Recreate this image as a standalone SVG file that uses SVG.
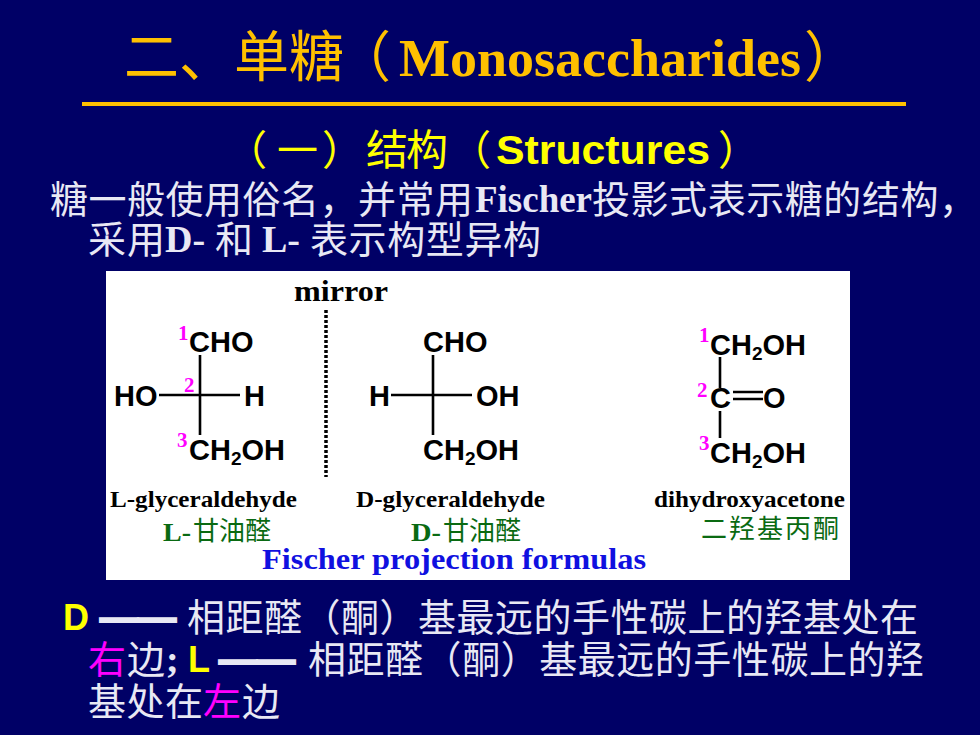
<svg xmlns="http://www.w3.org/2000/svg" width="980" height="735" viewBox="0 0 980 735">
<style>
text{white-space:pre}
.cj{font-family:"Noto Sans CJK SC","Liberation Sans",sans-serif}
.tm{font-family:"Liberation Serif","Noto Sans CJK SC",serif;font-weight:bold}
.ar{font-family:"Liberation Sans","Noto Sans CJK SC",sans-serif;font-weight:bold}
.w{fill:#e8e8f4;font-size:38px}
.wt{fill:#e8e8f4;font-size:36px;stroke:#e8e8f4;stroke-width:2}
.y{fill:#ffc000}
.yy{fill:#ffff00}
.chem{font-size:29px;fill:#000}
.sub{font-size:19px}
.num{font-size:21px;fill:#ff00ff}
.nm{font-size:23px;fill:#000}
.gr{fill:#0a6a12;font-size:26px}
.bond{stroke:#000;stroke-width:2.6;fill:none}
</style>
<rect width="980" height="735" fill="#000066"/>
<g id="title">
<text class="cj y" x="124" y="76" font-size="55" textLength="220">二、单糖</text>
<text class="cj y" x="336" y="76" font-size="55">（</text>
<text class="tm y" x="399" y="76" font-size="52" textLength="402" lengthAdjust="spacingAndGlyphs">Monosaccharides</text>
<text class="cj y" x="804" y="76" font-size="55">）</text>
<line x1="82" y1="104" x2="906" y2="104" stroke="#ffc000" stroke-width="4"/>
</g>
<g id="subtitle">
<text class="cj yy" x="226" y="165" font-size="41">（</text>
<text class="cj yy" x="277" y="165" font-size="41">一</text>
<text class="cj yy" x="322" y="165" font-size="41">）</text>
<text class="cj yy" x="366" y="165" font-size="42" textLength="82">结构</text>
<text class="cj yy" x="450" y="165" font-size="41">（</text>
<text class="ar yy" x="496" y="164" font-size="41" textLength="214" lengthAdjust="spacingAndGlyphs">Structures</text>
<text class="cj yy" x="718" y="165" font-size="41">）</text>
</g>
<g id="intro">
<text class="cj w" x="50" y="213" textLength="423">糖一般使用俗名，并常用</text>
<text class="tm w" x="475" y="212" font-size="36" textLength="117" lengthAdjust="spacingAndGlyphs">Fischer</text>
<text class="cj w" x="592" y="213" textLength="385">投影式表示糖的结构，</text>
<text class="cj w" x="88" y="253" textLength="77">采用</text>
<text class="tm w" x="165" y="252" font-size="36">D-</text>
<text class="cj w" x="215" y="253">和</text>
<text class="tm w" x="262" y="252" font-size="36">L-</text>
<text class="cj w" x="310" y="253" textLength="231">表示构型异构</text>
</g>
<g id="panel">
<rect x="106" y="271" width="744" height="309" fill="#fff"/>
<text class="tm" x="294" y="301" font-size="29" fill="#000" textLength="94" lengthAdjust="spacingAndGlyphs">mirror</text>
<line x1="326" y1="310" x2="326" y2="477" stroke="#000" stroke-width="3.5" stroke-dasharray="3 2"/>
</g>
<g id="connectors">
<path class="bond" d="M200 355V435M159 395H240"/>
<path class="bond" d="M433 355V435M391 395H472"/>
<path class="bond" d="M720 357V388M720 411V438M733 392H763M733 399H763"/>
</g>
<g id="l-glyceraldehyde">
<text class="tm num" x="178" y="340">1</text><text class="ar chem" x="189" y="352">CHO</text>
<text class="ar chem" x="114" y="406">HO</text><text class="tm num" x="184" y="392">2</text><text class="ar chem" x="244" y="406">H</text>
<text class="tm num" x="177" y="447">3</text><text class="ar chem" x="189" y="460">CH<tspan class="sub" dy="5">2</tspan><tspan dy="-5">OH</tspan></text>
<text class="tm nm" x="110" y="507" textLength="187" lengthAdjust="spacingAndGlyphs">L-glyceraldehyde</text>
<text class="tm gr" x="163" y="541" font-size="25" textLength="28" lengthAdjust="spacingAndGlyphs">L-</text><text class="cj gr" x="193" y="540">甘油醛</text>
</g>
<g id="d-glyceraldehyde">
<text class="ar chem" x="423" y="352">CHO</text>
<text class="ar chem" x="369" y="406">H</text><text class="ar chem" x="476" y="406">OH</text>
<text class="ar chem" x="423" y="460">CH<tspan class="sub" dy="5">2</tspan><tspan dy="-5">OH</tspan></text>
<text class="tm nm" x="356" y="507" textLength="189" lengthAdjust="spacingAndGlyphs">D-glyceraldehyde</text>
<text class="tm gr" x="411" y="541" font-size="25" textLength="30" lengthAdjust="spacingAndGlyphs">D-</text><text class="cj gr" x="443" y="540">甘油醛</text>
</g>
<g id="dihydroxyacetone">
<text class="tm num" x="699" y="342">1</text><text class="ar chem" x="710" y="355">CH<tspan class="sub" dy="5">2</tspan><tspan dy="-5">OH</tspan></text>
<text class="tm num" x="697" y="397">2</text><text class="ar chem" x="710" y="408">C</text><text class="ar chem" x="763" y="408">O</text>
<text class="tm num" x="699" y="450">3</text><text class="ar chem" x="710" y="463">CH<tspan class="sub" dy="5">2</tspan><tspan dy="-5">OH</tspan></text>
<text class="tm nm" x="654" y="507" textLength="191" lengthAdjust="spacingAndGlyphs">dihydroxyacetone</text>
<text class="cj gr" x="701" y="538" textLength="138">二羟基丙酮</text>
</g>
<text class="tm" x="262" y="569" font-size="30" fill="#1010e0" textLength="384" lengthAdjust="spacingAndGlyphs">Fischer projection formulas</text>
<g id="notes">
<text class="ar yy" x="63" y="630" font-size="36">D</text>
<text class="ar wt" x="100" y="630" textLength="76" lengthAdjust="spacingAndGlyphs">——</text>
<text class="cj w" x="187" y="631" textLength="731">相距醛（酮）基最远的手性碳上的羟基处在</text>
<text class="cj w" x="88" y="673" style="fill:#ff00ff">右</text>
<text class="cj w" x="127" y="673">边</text>
<text class="tm w" x="166" y="672" font-size="36">;</text>
<text class="ar yy" x="188" y="672" font-size="36">L</text>
<text class="ar wt" x="219" y="672" textLength="76" lengthAdjust="spacingAndGlyphs">——</text>
<text class="cj w" x="308" y="673" textLength="616">相距醛（酮）基最远的手性碳上的羟</text>
<text class="cj w" x="88" y="715" textLength="115">基处在</text>
<text class="cj w" x="203" y="715" style="fill:#ff00ff">左</text>
<text class="cj w" x="242" y="715">边</text>
</g>
</svg>
